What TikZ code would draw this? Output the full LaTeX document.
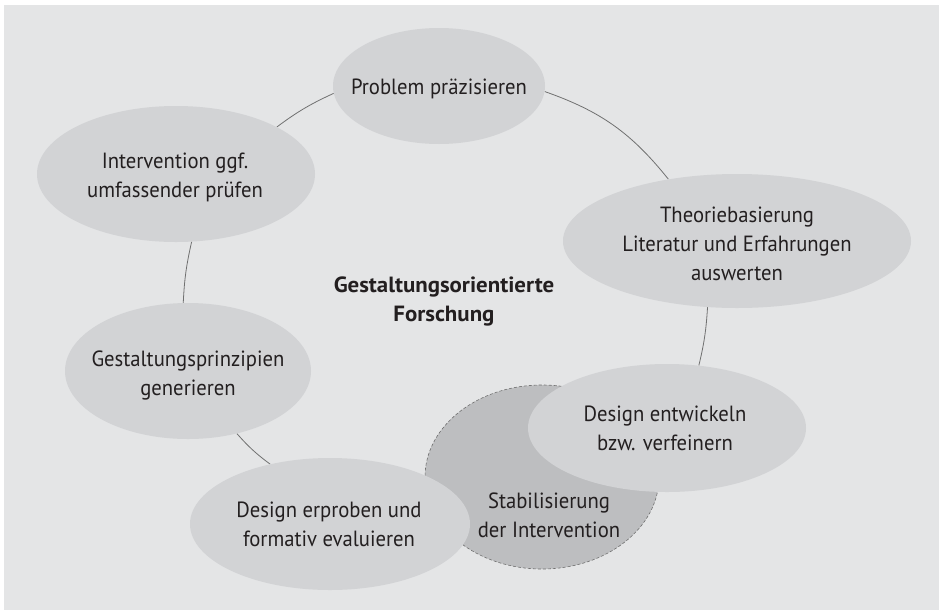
\documentclass[tikz,border=0pt]{standalone}
\usepackage{fontspec}
\setmainfont{PT Sans}[FakeStretch=0.94, BoldFeatures={FakeStretch=1.04}]
\usetikzlibrary{shapes.geometric}
\definecolor{bgc}{HTML}{E4E5E6}
\definecolor{blobc}{HTML}{D2D3D5}
\definecolor{blobdark}{HTML}{BDBEC0}
\definecolor{linec}{HTML}{707070}
\definecolor{txt}{HTML}{231F20}
\pgfdeclarelayer{back}
\pgfsetlayers{back,main}
\tikzset{
  blobe/.style={ellipse, fill=blobc, inner sep=0pt, draw=none},
  lbl/.style={align=center, text=txt, font=\fontsize{22}{29}\selectfont, inner sep=0pt},
  conn/.style={draw=linec, line width=0.8pt},
}
\begin{document}
\begin{tikzpicture}[x=1pt,y=1pt]
\useasboundingbox (0,0) rectangle (939,-611);
% ellipses
\node[ellipse, fill=blobdark, draw=linec, densely dashed, line width=0.6pt, inner sep=0pt, minimum width=234pt, minimum height=184pt] (stab) at (542,-477) {};
\node[blobe, minimum width=212pt, minimum height=116pt] (prob) at (439,-86) {};
\node[blobe, minimum width=278pt, minimum height=136pt] (interv) at (176,-174) {};
\node[blobe, minimum width=348pt, minimum height=134pt] (theo) at (737,-241) {};
\node[blobe, minimum width=246pt, minimum height=136pt] (gest) at (188,-371) {};
\node[blobe, minimum width=278pt, minimum height=128pt] (deve) at (667,-428) {};
\node[blobe, minimum width=280pt, minimum height=132pt] (derp) at (330,-524) {};
% labels
\node[lbl] (tprob) at (439,-89) {Problem präzisieren};
\node[lbl] (tinterv) at (175,-177) {Intervention ggf.\\umfassender prüfen};
\node[lbl] (ttheo) at (737,-244) {Theoriebasierung\\Literatur und Erfahrungen\\auswerten};
\node[lbl] (tgest) at (188,-375) {Gestaltungsprinzipien\\generieren};
\node[lbl] (tdeve) at (665,-428) {Design entwickeln\\bzw. verfeinern};
\node[lbl] (tstab) at (549,-515) {Stabilisierung\\der Intervention};
\node[lbl] (tderp) at (329,-524) {Design erproben und\\formativ evaluieren};
\node[lbl, font=\fontsize{22}{29}\selectfont\bfseries] (center) at (444,-301.5) {Gestaltungsorientierte\\Forschung};
% background and connectors
\begin{pgfonlayer}{back}
\fill[bgc] (4,-5) rectangle (939,-610);
\draw[conn] (prob.-3) to[bend left=16] (theo.138);
\draw[conn] (theo.246) to[bend left=5] (deve.63);
\draw[conn] (interv.25) to[bend left=6] (prob.184);
\draw[conn] (gest.94) to[bend left=5] (interv.283);
\draw[conn] (derp.135) to[bend left=6] (gest.-52);
\end{pgfonlayer}
\end{tikzpicture}
\end{document}
